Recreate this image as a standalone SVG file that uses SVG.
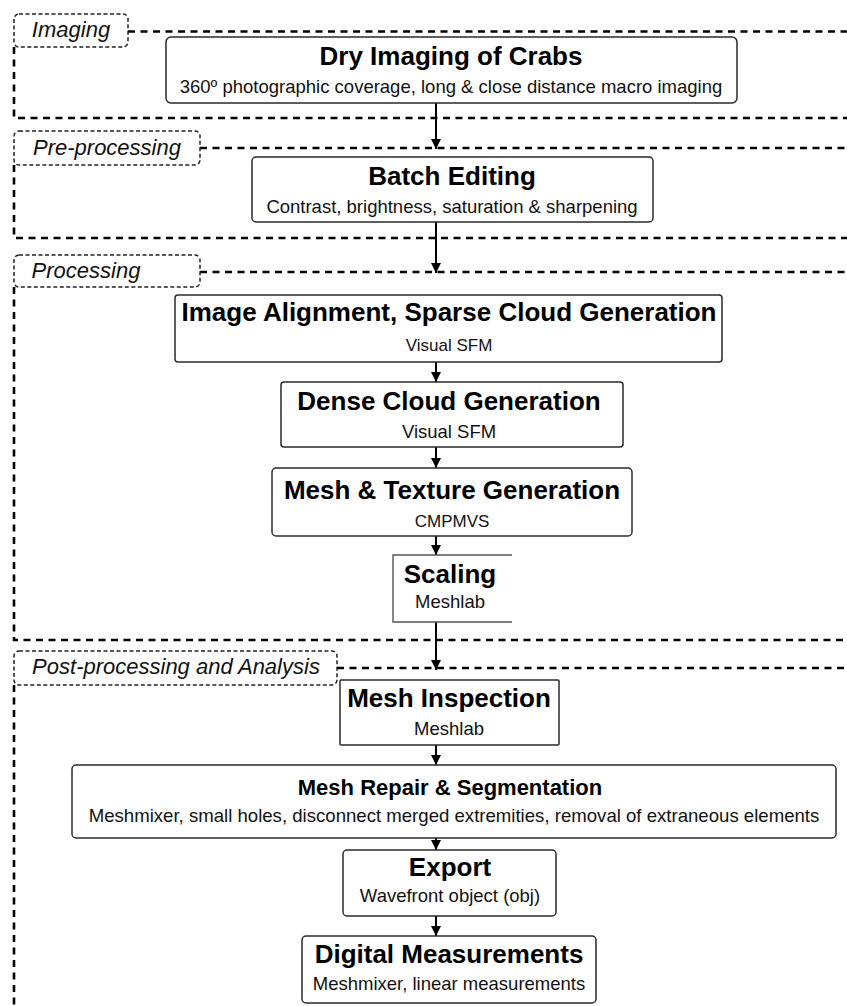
<svg xmlns="http://www.w3.org/2000/svg" width="847" height="1006" viewBox="0 0 847 1006">
<style>
.box{fill:#fff;stroke:#2a2a2a;stroke-width:1.5}
.t{font-family:"Liberation Sans",Arial,sans-serif;font-weight:bold;font-size:26px;text-anchor:middle;fill:#000}
.s{font-family:"Liberation Sans",Arial,sans-serif;font-size:18.5px;text-anchor:middle;fill:#111}
.sec{fill:none;stroke:#000;stroke-width:2.6;stroke-dasharray:7 5.5}
.lab{fill:#fff;stroke:#222;stroke-width:1.5;stroke-dasharray:4 2.5}
.lt{font-family:"Liberation Sans",Arial,sans-serif;font-style:italic;font-size:22px;text-anchor:middle;fill:#111}
.conn{stroke:#000;stroke-width:2;fill:none}
</style>
<defs>
<marker id="arr" markerUnits="userSpaceOnUse" markerWidth="12" markerHeight="14" refX="10" refY="6" orient="auto" viewBox="0 0 12 12">
<path d="M0,1 L10,6 L0,11 Z" fill="#000"/>
</marker>
</defs>
<rect width="847" height="1006" fill="#fff"/>

<g id="sections">
<g id="sec-imaging">
<path class="sec" d="M128,31.5 H850 M14,47 V118 H850"/>
<rect class="lab" x="14" y="14" width="114" height="33" rx="5"/>
<text class="lt" x="71" y="37">Imaging</text>
</g>
<g id="sec-preprocessing">
<path class="sec" d="M200,148 H850 M14,165 V238 H850"/>
<rect class="lab" x="14" y="131" width="186" height="34" rx="5"/>
<text class="lt" x="107" y="155">Pre-processing</text>
</g>
<g id="sec-processing">
<path class="sec" d="M200,272 H850 M14,287 V640 H850"/>
<rect class="lab" x="14" y="255" width="186" height="32" rx="5"/>
<text class="lt" x="86" y="278">Processing</text>
</g>
<g id="sec-post">
<path class="sec" d="M337,668 H850 M14,685 V1010"/>
<rect class="lab" x="14" y="651" width="323" height="34" rx="5"/>
<text class="lt" x="176" y="674">Post-processing and Analysis</text>
</g>
</g>

<g id="connectors">
<line class="conn" x1="436" y1="103" x2="436" y2="149" marker-end="url(#arr)"/>
<line class="conn" x1="436" y1="222" x2="436" y2="273" marker-end="url(#arr)"/>
<line class="conn" x1="436" y1="362" x2="436" y2="382" marker-end="url(#arr)"/>
<line class="conn" x1="436" y1="447" x2="436" y2="468" marker-end="url(#arr)"/>
<line class="conn" x1="436" y1="536" x2="436" y2="555" marker-end="url(#arr)"/>
<line class="conn" x1="436" y1="622" x2="436" y2="670" marker-end="url(#arr)"/>
<line class="conn" x1="436" y1="745" x2="436" y2="765" marker-end="url(#arr)"/>
<line class="conn" x1="436" y1="838" x2="436" y2="850" marker-end="url(#arr)"/>
<line class="conn" x1="436" y1="916" x2="436" y2="936" marker-end="url(#arr)"/>
</g>

<g id="node-dry-imaging">
<rect class="box" x="166" y="37" width="571" height="66" rx="5"/>
<text class="t" x="451" y="65">Dry Imaging of Crabs</text>
<text class="s" x="451" y="93">360º photographic coverage, long &amp; close distance macro imaging</text>
</g>
<g id="node-batch-editing">
<rect class="box" x="252" y="157" width="401" height="65" rx="4"/>
<text class="t" x="452" y="185">Batch Editing</text>
<text class="s" x="452" y="213">Contrast, brightness, saturation &amp; sharpening</text>
</g>
<g id="node-image-alignment">
<rect class="box" x="175" y="295" width="547" height="67" rx="3"/>
<text class="t" x="449" y="321">Image Alignment, Sparse Cloud Generation</text>
<text class="s" x="449" y="351" style="font-size:17px">Visual SFM</text>
</g>
<g id="node-dense-cloud">
<rect class="box" x="281" y="382" width="342" height="65" rx="3"/>
<text class="t" x="449" y="410">Dense Cloud Generation</text>
<text class="s" x="449" y="438">Visual SFM</text>
</g>
<g id="node-mesh-texture">
<rect class="box" x="272" y="468" width="360" height="68" rx="4"/>
<text class="t" x="452" y="499">Mesh &amp; Texture Generation</text>
<text class="s" x="452" y="527" style="font-size:17px">CMPMVS</text>
</g>
<g id="node-scaling">
<rect x="393" y="555" width="119" height="67" fill="#fff"/>
<path d="M512,555 H393 V622 H512" fill="none" stroke="#555" stroke-width="1.4"/>
<text class="t" x="450" y="583">Scaling</text>
<text class="s" x="450" y="608">Meshlab</text>
</g>
<g id="node-mesh-inspection">
<rect class="box" x="340" y="680" width="219" height="65" rx="1"/>
<text class="t" x="449" y="707">Mesh Inspection</text>
<text class="s" x="449" y="735">Meshlab</text>
</g>
<g id="node-mesh-repair">
<rect class="box" x="72" y="765" width="764" height="73" rx="4"/>
<text class="t" x="450" y="795" style="font-size:22px">Mesh Repair &amp; Segmentation</text>
<text class="s" x="454" y="822" style="font-size:18.6px">Meshmixer, small holes, disconnect merged extremities, removal of extraneous elements</text>
</g>
<g id="node-export">
<rect class="box" x="343" y="850" width="213" height="66" rx="4"/>
<text class="t" x="450" y="876">Export</text>
<text class="s" x="450" y="902">Wavefront object (obj)</text>
</g>
<g id="node-digital-measurements">
<rect class="box" x="302" y="936" width="294" height="67" rx="4"/>
<text class="t" x="449" y="963">Digital Measurements</text>
<text class="s" x="449" y="990">Meshmixer, linear measurements</text>
</g>
</svg>
